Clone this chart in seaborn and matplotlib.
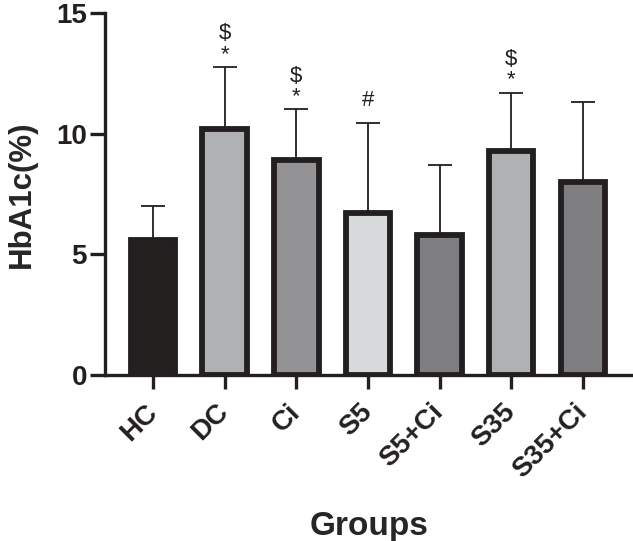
import numpy as np
import pandas as pd
import matplotlib
matplotlib.use('Agg')
import matplotlib.pyplot as plt
import seaborn as sns

groups = ['HC', 'DC', 'Ci', 'S5', 'S5+Ci', 'S35', 'S35+Ci']
hba1c_mean = [5.6, 10.2, 8.9, 6.7, 5.8, 9.3, 8.0]
hba1c_sd = [1.4, 2.55, 2.1, 3.75, 2.9, 2.4, 3.3]
marks = ['', '$*', '$*', '#', '', '$*', '']
bar_colors = ['#231f20', '#b0b1b3', '#929396', '#d8d9da', '#7d7e82', '#b0b1b3', '#7d7e82']

sns.set_style("ticks")
plt.rcParams['font.family'] = ['Liberation Sans', 'DejaVu Sans']

df = pd.DataFrame({'group': groups, 'mean': hba1c_mean, 'sd': hba1c_sd})

fig = plt.figure(figsize=(6.33, 5.41), dpi=100)
ax = fig.add_axes([0.166, 0.307, 0.834, 0.669])

# error bars first so the bars hide the lower part
ax.errorbar(np.arange(len(groups)), df['mean'],
            yerr=[np.zeros(len(groups)), df['sd']],
            fmt='none', ecolor='#231f20', elinewidth=1.3,
            capsize=8.5, capthick=1.3, zorder=1)

sns.barplot(data=df, x='group', y='mean', hue='group', palette=bar_colors,
            legend=False, errorbar=None, width=0.62,
            edgecolor='#231f20', linewidth=4.2, ax=ax, zorder=2)

for i, (m, s, mk) in enumerate(zip(hba1c_mean, hba1c_sd, marks)):
    top = m + s
    if '*' in mk:
        ax.text(i, top + 0.1, '*', ha='center', va='bottom', fontsize=16, color='#231f20')
    if '$' in mk:
        ax.text(i, top + 0.95, r'\$', ha='center', va='bottom', fontsize=16, color='#231f20')
    if '#' in mk:
        ax.text(i, top + 0.5, '#', ha='center', va='bottom', fontsize=16, color='#231f20')

ax.set_ylim(0, 15)
ax.set_xlim(-0.67, 6.7)
ax.set_yticks([0, 5, 10, 15])
ax.set_xticks(range(len(groups)))
ax.set_xticklabels(groups, rotation=45, ha='right', va='center', rotation_mode='anchor')

sns.despine(ax=ax)
for sp in ['left', 'bottom']:
    ax.spines[sp].set_linewidth(2.4)
    ax.spines[sp].set_color('#231f20')

ax.tick_params(axis='y', length=11, width=2.4, labelsize=20, pad=2, colors='#231f20')
ax.tick_params(axis='x', length=10, width=2.4, labelsize=20, pad=14, colors='#231f20')
for lab in ax.get_xticklabels() + ax.get_yticklabels():
    lab.set_fontweight('bold')

ax.set_ylabel('HbA1c(%)', fontsize=22.5, fontweight='bold', labelpad=14)
ax.set_xlabel('Groups', fontsize=24, fontweight='bold', labelpad=20)

plt.savefig('out.png', dpi=100)
